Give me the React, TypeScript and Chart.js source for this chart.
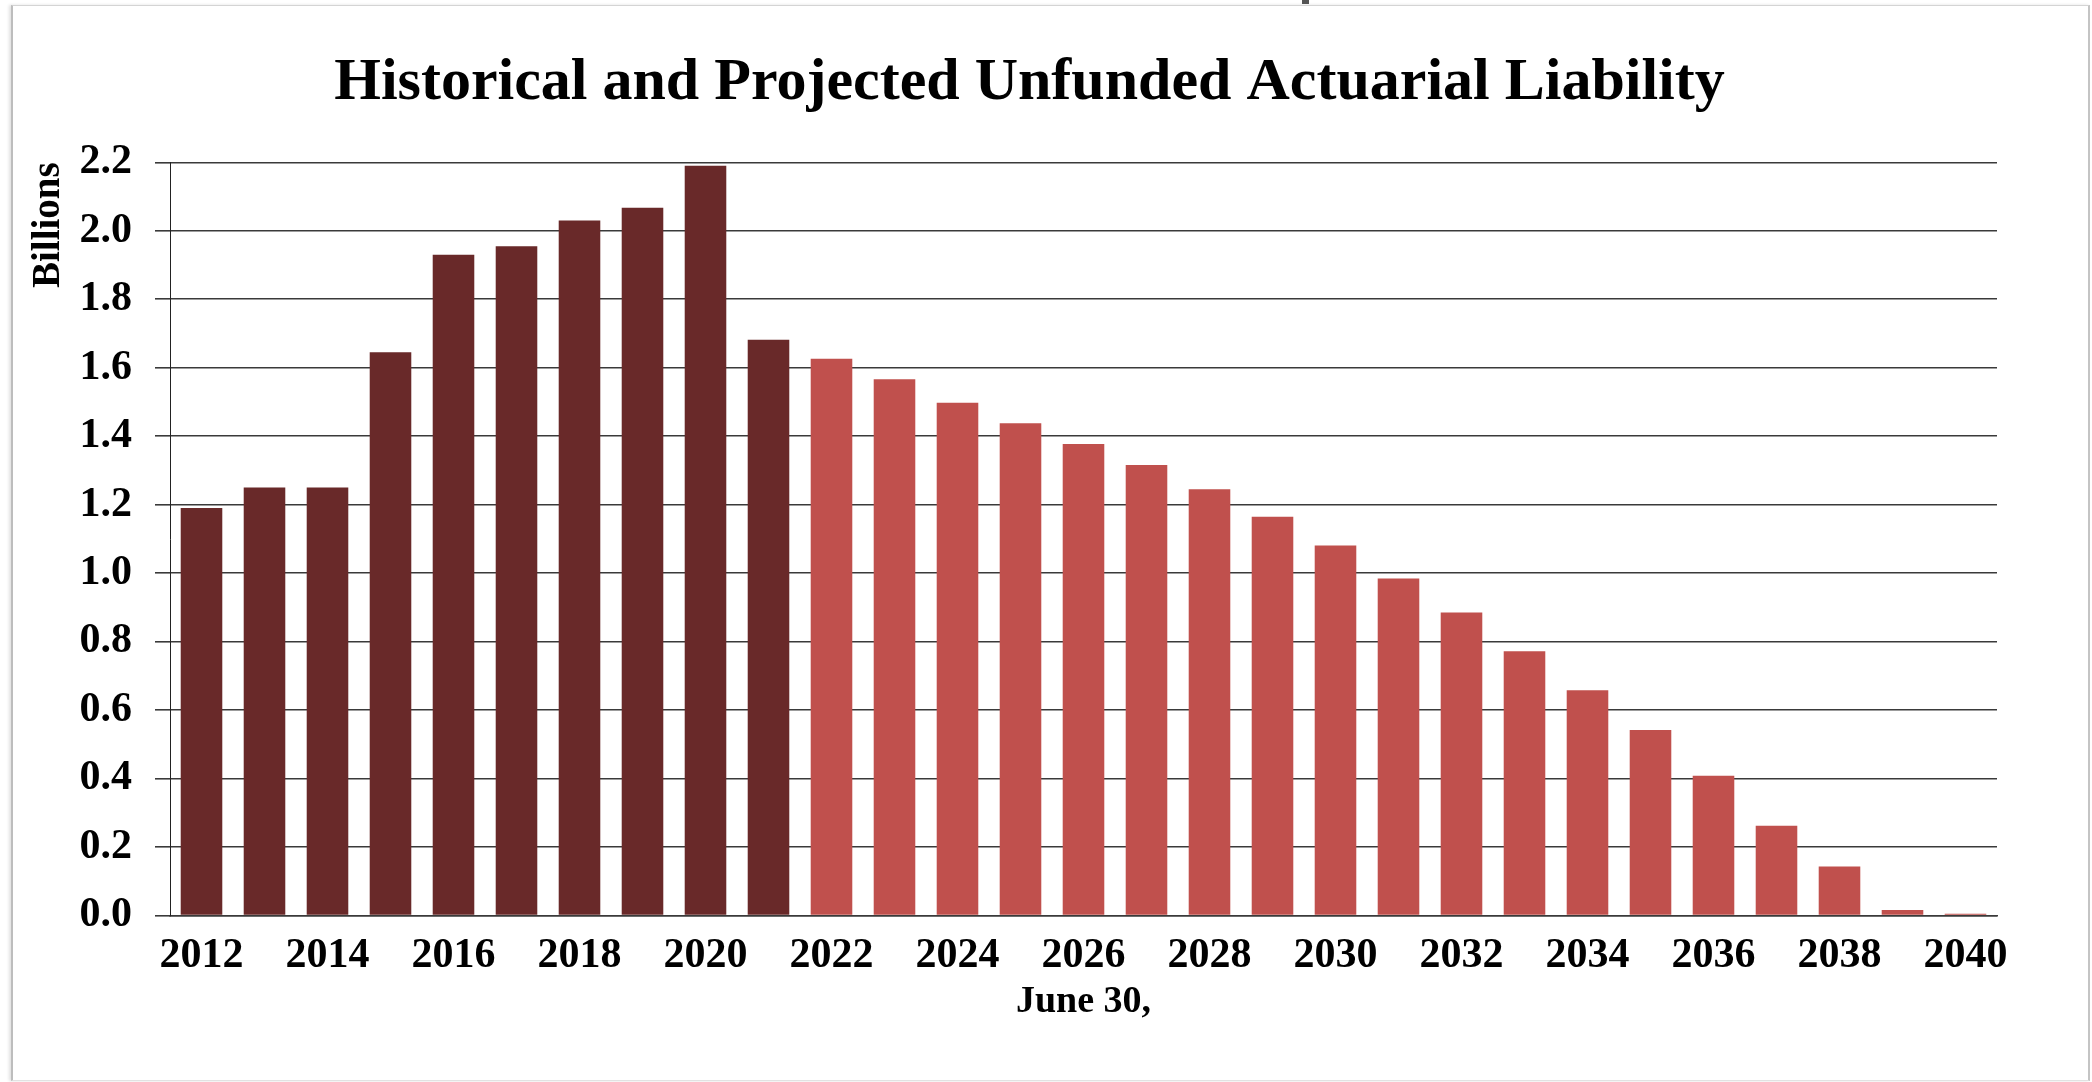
import React, { useEffect, useRef } from 'react';
import { Chart, registerables } from 'chart.js';

Chart.register(...registerables);

// ---- Data ----
const years = [
  '2012', '2013', '2014', '2015', '2016', '2017', '2018', '2019', '2020', '2021',
  '2022', '2023', '2024', '2025', '2026', '2027', '2028', '2029', '2030', '2031',
  '2032', '2033', '2034', '2035', '2036', '2037', '2038', '2039', '2040',
];
const liabilityBillions = [
  1.19, 1.25, 1.25, 1.645, 1.93, 1.955, 2.03, 2.067, 2.19, 1.682,
  1.626, 1.566, 1.498, 1.438, 1.377, 1.316, 1.245, 1.165, 1.081, 0.984,
  0.885, 0.772, 0.658, 0.542, 0.408, 0.262, 0.143, 0.016, 0.005,
];
const lastHistoricalYear = 2021;
const yAxisMin = 0;
const yAxisMax = 2.2;
const yAxisStep = 0.2;

const chartTitle = 'Historical and Projected Unfunded Actuarial Liability';
const yAxisTitle = 'Billions';
const xAxisTitle = 'June 30,';

// ---- Styles ----
const HIST_COLOR = '#692929';
const PROJ_COLOR = '#c0504d';
const GRID_COLOR = '#3a3a3a';
const FONT = "'Liberation Serif', 'Times New Roman', Times, serif";

export default function App() {
  const canvasRef = useRef<HTMLCanvasElement | null>(null);

  useEffect(() => {
    if (!canvasRef.current) return;
    const colors = years.map((y) => (Number(y) <= lastHistoricalYear ? HIST_COLOR : PROJ_COLOR));
    const chart = new Chart(canvasRef.current, {
      type: 'bar',
      data: {
        labels: years,
        datasets: [
          {
            label: 'Unfunded Actuarial Liability',
            data: liabilityBillions,
            backgroundColor: colors,
            borderWidth: 0,
            categoryPercentage: 1,
            barPercentage: 0.66,
            yAxisID: 'y',
          },
        ],
      },
      options: {
        responsive: false,
        animation: false,
        devicePixelRatio: 1,
        layout: { padding: { left: 25.7, right: 58.7, top: 0, bottom: 57 } },
        plugins: {
          legend: { display: false },
          tooltip: { enabled: false },
          title: {
            display: true,
            text: chartTitle,
            color: '#000',
            font: { family: FONT, size: 60, weight: 'bold' },
            padding: { top: 47.5, bottom: 42.8 },
          },
        },
        scales: {
          x: {
            grid: { display: false, drawTicks: false },
            border: { display: true, color: GRID_COLOR, width: 1.5 },
            ticks: {
              color: '#000',
              font: { family: FONT, size: 42, weight: 'bold' },
              padding: 15,
              autoSkip: false,
              maxRotation: 0,
              callback: (_v: any, i: number) => (i % 2 === 0 ? years[i] : ''),
            },
            title: {
              display: true,
              text: xAxisTitle,
              color: '#000',
              font: { family: FONT, size: 38, weight: 'bold' },
              padding: { top: 0, bottom: 0 },
            },
            afterFit: (s: any) => {
              s.height = 109.5;
            },
          },
          y: {
            position: 'left',
            min: yAxisMin,
            max: yAxisMax,
            grid: { color: GRID_COLOR, lineWidth: 1.6, tickLength: 15, drawTicks: true },
            border: { display: true, color: '#222', width: 1 },
            ticks: {
              stepSize: yAxisStep,
              color: '#000',
              font: { family: FONT, size: 42, weight: 'bold' },
              padding: 23,
              callback: (v: any) => Number(v).toFixed(1),
            },
            title: {
              display: true,
              text: yAxisTitle,
              align: 'end',
              color: '#000',
              font: { family: FONT, size: 39, weight: 'bold' },
              padding: { top: 0, bottom: 0 },
            },
            afterFit: (s: any) => {
              s.width = 144.3;
            },
          },
          yRightSpacer: {
            position: 'right',
            display: true,
            grid: { display: false, drawTicks: false },
            border: { display: false },
            ticks: { display: false },
            title: { display: false },
            afterFit: (s: any) => {
              s.width = 36.3;
            },
          },
        },
      } as any,
    });
    return () => chart.destroy();
  }, []);

  return (
    <div
      style={{
        position: 'absolute',
        left: 0,
        top: 0,
        width: 2092,
        height: 1082,
        background: '#ffffff',
        overflow: 'hidden',
      }}
    >
      <div
        style={{
          position: 'absolute',
          left: 11,
          top: 5,
          width: 2079,
          height: 1076,
          boxSizing: 'border-box',
          borderLeft: '2px solid #bdbdbd',
          borderRight: '2px solid #c4c4c4',
          borderTop: '1px solid #d4d4d4',
          borderBottom: '1px solid #e2e2e2',
          boxShadow: '-2px 0 3px rgba(0,0,0,0.12)',
        }}
      />
      <div
        style={{ position: 'absolute', left: 1302, top: 0, width: 7, height: 4, background: '#555' }}
      />
      <canvas
        ref={canvasRef}
        width={2092}
        height={1082}
        style={{ position: 'absolute', left: 0, top: 0, width: 2092, height: 1082 }}
      />
    </div>
  );
}
